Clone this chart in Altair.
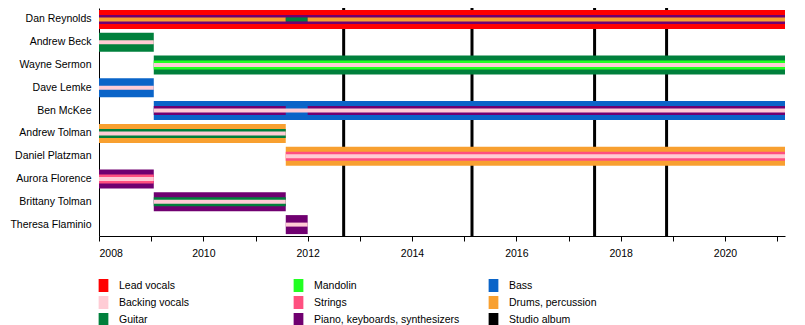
import altair as alt
import pandas as pd

END = 2021.15

members = ["Dan Reynolds", "Andrew Beck", "Wayne Sermon", "Dave Lemke", "Ben McKee",
           "Andrew Tolman", "Daniel Platzman", "Aurora Florence", "Brittany Tolman",
           "Theresa Flaminio"]

# legend order (filled column by column in a 3-column legend)
roles = ["Lead vocals", "Backing vocals", "Guitar",
         "Mandolin", "Strings", "Piano, keyboards, synthesizers",
         "Bass", "Drums, percussion", "Studio album"]
role_colors = ["#ff0000", "#ffccd5", "#00803c",
               "#22ff22", "#ff5080", "#700070",
               "#0a64c8", "#f8a030", "#000000"]

seg_member = [
    "Dan Reynolds", "Dan Reynolds", "Dan Reynolds", "Dan Reynolds", "Dan Reynolds",
    "Andrew Beck", "Andrew Beck",
    "Wayne Sermon", "Wayne Sermon", "Wayne Sermon",
    "Dave Lemke", "Dave Lemke",
    "Ben McKee", "Ben McKee", "Ben McKee", "Ben McKee",
    "Andrew Tolman", "Andrew Tolman", "Andrew Tolman",
    "Daniel Platzman", "Daniel Platzman", "Daniel Platzman",
    "Aurora Florence", "Aurora Florence", "Aurora Florence",
    "Brittany Tolman", "Brittany Tolman", "Brittany Tolman",
    "Theresa Flaminio", "Theresa Flaminio",
]
seg_start = [
    2008, 2008, 2008, 2011.58, 2012.0,
    2008, 2008,
    2009.05, 2009.05, 2009.05,
    2008, 2008,
    2009.05, 2009.05, 2012.0, 2009.05,
    2008, 2008, 2008,
    2011.58, 2011.58, 2011.58,
    2008, 2008, 2008,
    2009.05, 2009.05, 2009.05,
    2011.58, 2011.58,
]
seg_end = [
    END, END, 2011.58, 2012.0, END,
    2009.05, 2009.05,
    END, END, END,
    2009.05, 2009.05,
    END, 2011.58, END, END,
    2011.58, 2011.58, 2011.58,
    END, END, END,
    2009.05, 2009.05, 2009.05,
    2011.58, 2011.58, 2011.58,
    2012.0, 2012.0,
]
seg_role = [
    "Lead vocals", "Piano, keyboards, synthesizers", "Drums, percussion", "Guitar", "Drums, percussion",
    "Guitar", "Backing vocals",
    "Guitar", "Mandolin", "Backing vocals",
    "Bass", "Backing vocals",
    "Bass", "Piano, keyboards, synthesizers", "Piano, keyboards, synthesizers", "Backing vocals",
    "Drums, percussion", "Guitar", "Backing vocals",
    "Drums, percussion", "Strings", "Backing vocals",
    "Piano, keyboards, synthesizers", "Strings", "Backing vocals",
    "Piano, keyboards, synthesizers", "Guitar", "Backing vocals",
    "Piano, keyboards, synthesizers", "Backing vocals",
]
seg_level = [
    "outer", "middle", "inner", "inner", "inner",
    "outer", "inner",
    "outer", "middle", "inner",
    "outer", "inner",
    "outer", "middle", "middle", "inner",
    "outer", "middle", "inner",
    "outer", "middle", "inner",
    "outer", "middle", "inner",
    "outer", "middle", "inner",
    "outer", "inner",
]

albums = [2012.69, 2015.15, 2017.5, 2018.88]
year_ticks = list(range(2008, 2022))

segs = pd.DataFrame({"member": seg_member, "start": seg_start, "end": seg_end,
                     "role": seg_role, "level": seg_level})
alb = pd.DataFrame({"year": albums})

FONT = "Liberation Sans"

xscale = alt.Scale(domain=[2008, END], nice=False, zero=False)
xaxis = alt.Axis(values=year_ticks, format="d",
                 labelExpr="datum.value % 2 == 0 ? datum.label : ''",
                 grid=False, title=None, domainColor="black", tickColor="black",
                 tickSize=5, labelPadding=7, labelFont=FONT, labelFontSize=10.5,
                 labelColor="black")
yenc = alt.Y("member:N", sort=members, scale=alt.Scale(domain=members),
             axis=alt.Axis(title=None, ticks=False, domainColor="black",
                           labelFont=FONT, labelFontSize=10.5, labelColor="black",
                           labelPadding=8, grid=False))

legend = alt.Legend(orient="none", legendX=-2, legendY=271, columns=3, gridAlign="all",
                    columnPadding=27, rowPadding=4, title=None,
                    symbolType="M-0.75,-1L0.75,-1L0.75,1L-0.75,1Z",
                    symbolSize=169, symbolStrokeWidth=0, symbolOpacity=1,
                    labelFont=FONT, labelFontSize=10.5, labelColor="black",
                    labelOffset=9)
cenc = alt.Color("role:N", scale=alt.Scale(domain=roles, range=role_colors), legend=legend)

rules = alt.Chart(alb).mark_rule(strokeWidth=3, color="black").encode(
    x=alt.X("year:Q", scale=xscale, axis=xaxis)
)

def bars(level, size):
    return alt.Chart(segs).transform_filter(alt.datum.level == level).mark_bar(
        size=size, opacity=1, strokeWidth=0
    ).encode(
        x=alt.X("start:Q", scale=xscale, axis=xaxis),
        x2="end:Q",
        y=yenc,
        color=cenc,
    )

chart = alt.layer(rules, bars("outer", 19), bars("middle", 9), bars("inner", 4)).properties(
    width=686, height=228,
    autosize="none",
    padding={"left": 99, "top": 8, "right": 20, "bottom": 89},
).configure_view(stroke=None)

chart.save("out.html", embed_options={"renderer": "svg", "actions": False})
